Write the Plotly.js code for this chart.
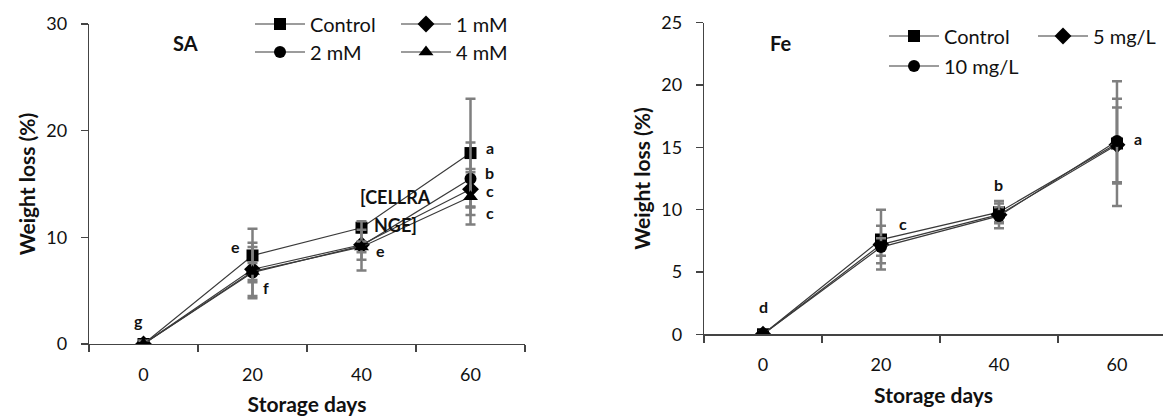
<!DOCTYPE html>
<html>
<head>
<meta charset="utf-8">
<script src="https://cdn.plot.ly/plotly-3.0.1.min.js"></script>
<style>html,body{margin:0;padding:0;background:#fff;}#chart{width:1163px;height:416px;}</style>
</head>
<body>
<div id="chart"></div>
<script>
// ---- data ----
const days = ['0', '20', '40', '60'];

// SA panel
const saControl = [0, 8.3, 10.9, 17.9];
const saControlErr = [0.3, 2.5, 0.4, 5.1];
const sa1mM = [0, 7.0, 9.3, 14.5];
const sa1mMErr = [0.3, 2.5, 1.4, 1.6];
const sa2mM = [0, 6.7, 9.2, 15.5];
const sa2mMErr = [0.3, 2.4, 2.3, 3.4];
const sa4mM = [0, 6.8, 9.1, 13.8];
const sa4mMErr = [0.3, 0.8, 0.5, 2.6];

// Fe panel
const feControl = [0, 7.6, 9.8, 15.3];
const feControlErr = [0.2, 2.4, 0.9, 5.0];
const fe5 = [0, 7.2, 9.6, 15.2];
const fe5Err = [0.2, 1.5, 0.6, 3.0];
const fe10 = [0, 7.0, 9.5, 15.5];
const fe10Err = [0.2, 0.7, 1.0, 3.4];

// significance letters
const saLetters = ['g', 'e', 'f', 'e', 'a', 'b', 'c', 'c'];
const feLetters = ['d', 'c', 'b', 'a'];

// ---- styling ----
const FONT = 'Lato, "Open Sans", sans-serif';
const lineCol = '#3a3a3a';
const errCol = '#7f7f7f';

function series(name, y, err, symbol, xa, ya, legend, size) {
  return {
    type: 'scatter', mode: 'lines+markers', name: name,
    x: days, y: y, xaxis: xa, yaxis: ya, legend: legend,
    line: {color: lineCol, width: 1.2},
    marker: {symbol: symbol, size: size || 12, color: '#000'},
    error_y: {type: 'data', array: err, visible: true, color: errCol, thickness: 2.5, width: 5}
  };
}

const traces = [
  series('Control', saControl, saControlErr, 'square', 'x', 'y', 'legend', 12),
  series('1 mM', sa1mM, sa1mMErr, 'diamond', 'x', 'y', 'legend2', 13),
  series('2 mM', sa2mM, sa2mMErr, 'circle', 'x', 'y', 'legend3', 12),
  series('4 mM', sa4mM, sa4mMErr, 'triangle-up', 'x', 'y', 'legend4', 13),
  series('Control', feControl, feControlErr, 'square', 'x2', 'y2', 'legend5', 12),
  series('5 mg/L', fe5, fe5Err, 'diamond', 'x2', 'y2', 'legend6', 13),
  series('10 mg/L', fe10, fe10Err, 'circle', 'x2', 'y2', 'legend7', 12)
];

function xAxis(domain, range, anchor) {
  return {
    type: 'category', domain: domain, range: range, tickson: 'boundaries', anchor: anchor,
    showline: true, linecolor: '#444', linewidth: 1.2, ticks: 'outside', ticklen: 7,
    tickcolor: '#444', tickwidth: 1.2, showgrid: false, zeroline: false,
    tickfont: {family: FONT, size: 18, color: '#111'}, ticklabelstandoff: 14,
    title: {text: 'Storage days', font: {family: FONT, size: 21, color: '#111', weight: 'bold'}, standoff: 14},
    fixedrange: true
  };
}
function yAxis(domain, range, dtick, anchor) {
  return {
    domain: domain, range: range, dtick: dtick, anchor: anchor,
    showline: true, linecolor: '#444', linewidth: 1.2, ticks: 'outside', ticklen: 7,
    tickcolor: '#444', tickwidth: 1.2, showgrid: false, zeroline: false,
    tickfont: {family: FONT, size: 18, color: '#111'}, ticklabelstandoff: 10,
    title: {text: 'Weight loss (%)', font: {family: FONT, size: 21, color: '#111', weight: 'bold'}, standoff: 5},
    fixedrange: true
  };
}

function legendAt(x, y) {
  return {x: x, y: y, xanchor: 'left', yanchor: 'middle', bgcolor: 'rgba(0,0,0,0)',
    font: {family: FONT, size: 20, color: '#111'}, itemwidth: 50, borderwidth: 0,
    orientation: 'v', tracegroupgap: 0};
}

function letter(text, x, y, xa, ya, opts) {
  return Object.assign({text: text, x: x, y: y, xref: xa, yref: ya, showarrow: false,
    xanchor: 'center', yanchor: 'middle',
    font: {family: FONT, size: 16, color: '#111', weight: 'bold'}}, opts || {});
}

const titleFont = {family: FONT, size: 20, color: '#111', weight: 'bold'};
const annotations = [
  letter('SA', 185 / 1163, 1 - 43 / 416, 'paper', 'paper', {font: titleFont}),
  letter('Fe', 780 / 1163, 1 - 43 / 416, 'paper', 'paper', {font: titleFont}),
  letter(saLetters[0], 0, saControl[0] + 2.2, 'x', 'y', {xshift: -5}),
  letter(saLetters[1], 1, saControl[1] + 0.8, 'x', 'y', {xshift: -17}),
  letter(saLetters[2], 1, sa1mM[1] - 1.7, 'x', 'y', {xshift: 13}),
  letter(saLetters[3], 2, sa1mM[2] - 0.5, 'x', 'y', {xshift: 19}),
  letter(saLetters[4], 3, saControl[3] + 0.5, 'x', 'y', {xshift: 19}),
  letter(saLetters[5], 3, sa2mM[3] + 0.6, 'x', 'y', {xshift: 19}),
  letter(saLetters[6], 3, sa1mM[3] - 0.1, 'x', 'y', {xshift: 19}),
  letter(saLetters[7], 3, sa4mM[3] - 1.5, 'x', 'y', {xshift: 19}),
  letter('[CELLRA', 2.31, 13.8, 'x', 'y', {font: {family: FONT, size: 18, color: '#111', weight: 'bold'}}),
  letter('NGE]', 2.31, 11.15, 'x', 'y', {font: {family: FONT, size: 18, color: '#111', weight: 'bold'}}),
  letter(feLetters[0], 0, feControl[0] + 2.2, 'x2', 'y2'),
  letter(feLetters[1], 1, feControl[1] + 1.3, 'x2', 'y2', {xshift: 22}),
  letter(feLetters[2], 2, feControl[2] + 2.2, 'x2', 'y2'),
  letter(feLetters[3], 3, fe10[3] + 0.2, 'x2', 'y2', {xshift: 21})
];

const W = 1163, H = 416;
const layout = {
  width: W, height: H,
  margin: {l: 0, r: 0, t: 0, b: 0},
  paper_bgcolor: '#fff', plot_bgcolor: '#fff',
  showlegend: true,
  font: {family: FONT, color: '#111'},
  xaxis: xAxis([89 / W, 525 / W], [-0.5, 3.5], 'y'),
  yaxis: yAxis([(H - 344) / H, (H - 24) / H], [0, 30], 10, 'x'),
  xaxis2: xAxis([704 / W, 1], [-0.5, 3.39], 'y2'),
  yaxis2: yAxis([(H - 334.3) / H, (H - 22.7) / H], [0, 25], 5, 'x2'),
  legend: legendAt(250 / W, 1 - 24 / H),
  legend2: legendAt(396 / W, 1 - 24 / H),
  legend3: legendAt(250 / W, 1 - 52 / H),
  legend4: legendAt(396 / W, 1 - 52 / H),
  legend5: legendAt(884 / W, 1 - 36 / H),
  legend6: legendAt(1033 / W, 1 - 36 / H),
  legend7: legendAt(884 / W, 1 - 66 / H),
  annotations: annotations
};

Plotly.newPlot('chart', traces, layout, {staticPlot: true, displayModeBar: false});
</script>
</body>
</html>
